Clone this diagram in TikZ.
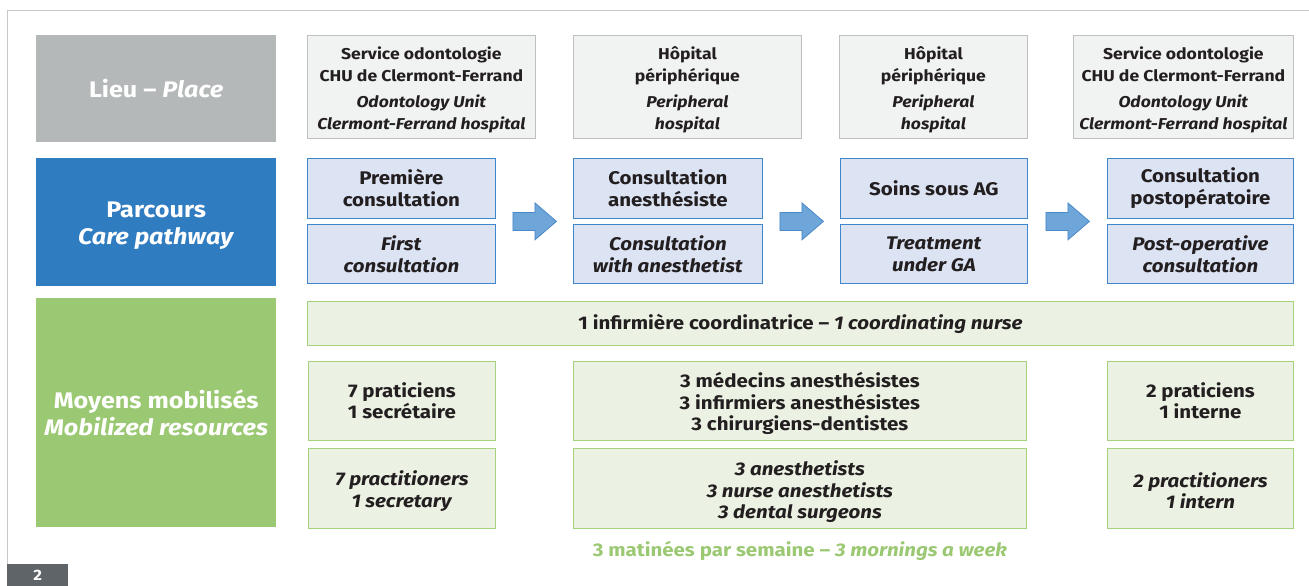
\documentclass[tikz,border=0pt]{standalone}
\usepackage{fontspec}
\setmainfont{Fira Sans}[FakeStretch=1.12]
\usetikzlibrary{calc}
\definecolor{txt}{HTML}{231F20}
\definecolor{lieucol}{HTML}{B5B8B9}
\definecolor{parcol}{HTML}{2F7CC1}
\definecolor{moycol}{HTML}{9BC872}
\definecolor{placefill}{HTML}{F1F2F2}
\definecolor{placeline}{HTML}{BDBFC0}
\definecolor{pfill}{HTML}{DCE3F3}
\definecolor{pline}{HTML}{3F86CB}
\definecolor{arrfill}{HTML}{6FA6DA}
\definecolor{arrline}{HTML}{4A88C8}
\definecolor{mfill}{HTML}{EBF1E3}
\definecolor{mline}{HTML}{A6D27E}
\definecolor{framecol}{HTML}{C8C8C8}
\definecolor{badge}{HTML}{5F6469}
\begin{document}
\begin{tikzpicture}[x=1pt,y=-1pt,
  hdr/.style={rectangle, anchor=north west, inner sep=0pt, text=white, align=center,
    minimum width=240pt, font=\bfseries\fontsize{22.5}{27}\selectfont},
  placebox/.style={rectangle, anchor=north west, inner sep=0pt, draw=placeline, fill=placefill,
    line width=0.8pt, text=txt, align=center, minimum height=103pt,
    font=\bfseries\fontsize{15.7}{22}\selectfont},
  pbox/.style={rectangle, anchor=north west, inner sep=0pt, draw=pline, fill=pfill,
    line width=0.8pt, text=txt, align=center,
    font=\bfseries\fontsize{18.3}{22}\selectfont},
  mbox/.style={rectangle, anchor=north west, inner sep=0pt, draw=mline, fill=mfill,
    line width=0.8pt, text=txt, align=center,
    font=\bfseries\fontsize{18.3}{21.5}\selectfont},
  bigarrow/.style={draw=arrline, fill=arrfill, line width=0.8pt, line join=miter}
]
\useasboundingbox (0,0) rectangle (1309,586);
% frame
\draw[framecol, line width=0.8pt] (7,564) -- (7,10) -- (1309,10);
\node[rectangle, anchor=north west, fill=badge, minimum width=61pt, minimum height=22pt,
  inner sep=0pt, text=white, font=\bfseries\fontsize{15}{15}\selectfont] (page) at (7,564) {2};

% left headers
\node[hdr, fill=lieucol, minimum height=107pt] (lieu) at (36,35) {Lieu -- \textit{Place}};
\node[hdr, fill=parcol, minimum height=128pt] (parcours) at (36,158) {\rule{0pt}{23pt}Parcours\\\textit{Care pathway}};
\node[hdr, fill=moycol, minimum height=229pt] (moyens) at (36,298) {Moyens mobilisés\\\textit{Mobilized resources}};

% places
\node[placebox, minimum width=228pt] (pl1) at (307,35)
  {\rule{0pt}{19pt}Service odontologie\\CHU de Clermont-Ferrand\\[4pt]\textit{Odontology Unit}\\\textit{Clermont-Ferrand hospital}};
\node[placebox, minimum width=228pt] (pl2) at (573,35)
  {\rule{0pt}{18.5pt}Hôpital\\périphérique\\[4pt]\textit{Peripheral}\\\textit{hospital}};
\node[placebox, minimum width=188pt] (pl3) at (839,35)
  {\rule{0pt}{18.5pt}Hôpital\\périphérique\\[4pt]\textit{Peripheral}\\\textit{hospital}};
\node[placebox, minimum width=220pt] (pl4) at (1073,35)
  {\rule{0pt}{19pt}Service odontologie\\CHU de Clermont-Ferrand\\[4pt]\textit{Odontology Unit}\\\textit{Clermont-Ferrand hospital}};

% pathway
\node[pbox, minimum width=188pt, minimum height=60pt] (c1) at (307,158) {Première\\consultation};
\node[pbox, minimum width=188pt, minimum height=59pt] (e1) at (307,224) {\textit{First}\\\textit{consultation}};
\node[pbox, minimum width=189pt, minimum height=60pt] (c2) at (573,158) {Consultation\\anesthésiste};
\node[pbox, minimum width=189pt, minimum height=59pt] (e2) at (573,224) {\textit{Consultation}\\\textit{with anesthetist}};
\node[pbox, minimum width=187pt, minimum height=60pt] (c3) at (840,158) {Soins sous AG};
\node[pbox, minimum width=187pt, minimum height=59pt] (e3) at (840,224) {\textit{Treatment}\\\textit{under GA}};
\node[pbox, minimum width=186pt, minimum height=60pt] (c4) at (1107,158) {Consultation\\postopératoire};
\node[pbox, minimum width=186pt, minimum height=59pt] (e4) at (1107,224) {\textit{Post-operative}\\\textit{consultation}};

\foreach \a/\b/\g in {c1/e2/g1, c2/e3/g2, c3/e4/g3}{
  \coordinate (\g) at ($(\a.south east)!0.5!(\b.north west)$);
  \draw[bigarrow] ($(\g)+(-21.5,-9)$) -- ($(\g)+(0.5,-9)$) -- ($(\g)+(0.5,-18.5)$)
    -- ($(\g)+(22,0)$) -- ($(\g)+(0.5,18.5)$) -- ($(\g)+(0.5,9)$) -- ($(\g)+(-21.5,9)$) -- cycle;
}

% resources
\node[mbox, minimum width=986pt, minimum height=44pt] (nurse) at (307,301)
  {1 infirmière coordinatrice -- \textit{1 coordinating nurse}};
\node[mbox, minimum width=187pt, minimum height=79pt] (r1) at (308,361) {7 praticiens\\1 secrétaire};
\node[mbox, minimum width=187pt, minimum height=80pt] (s1) at (308,448) {\rule{0pt}{20pt}\textit{7 practitioners}\\\textit{1 secretary}};
\node[mbox, minimum width=453pt, minimum height=79pt] (r2) at (573,361)
  {\rule{0pt}{20.5pt}3 médecins anesthésistes\\3 infirmiers anesthésistes\\3 chirurgiens-dentistes};
\node[mbox, minimum width=453pt, minimum height=80pt] (s2) at (573,448)
  {\rule{0pt}{21.5pt}\textit{3 anesthetists}\\\textit{3 nurse anesthetists}\\\textit{3 dental surgeons}};
\node[mbox, minimum width=186pt, minimum height=79pt] (r3) at (1107,361) {2 praticiens\\1 interne};
\node[mbox, minimum width=186pt, minimum height=80pt] (s3) at (1107,448) {\rule{0pt}{20pt}\textit{2 practitioners}\\\textit{1 intern}};

\node[text=moycol, font=\bfseries\fontsize{18.3}{20}\selectfont, anchor=center] (week)
  at ($(s2.south)+(0,22)$) {3 matinées par semaine -- \textit{3 mornings a week}};
\end{tikzpicture}
\end{document}
